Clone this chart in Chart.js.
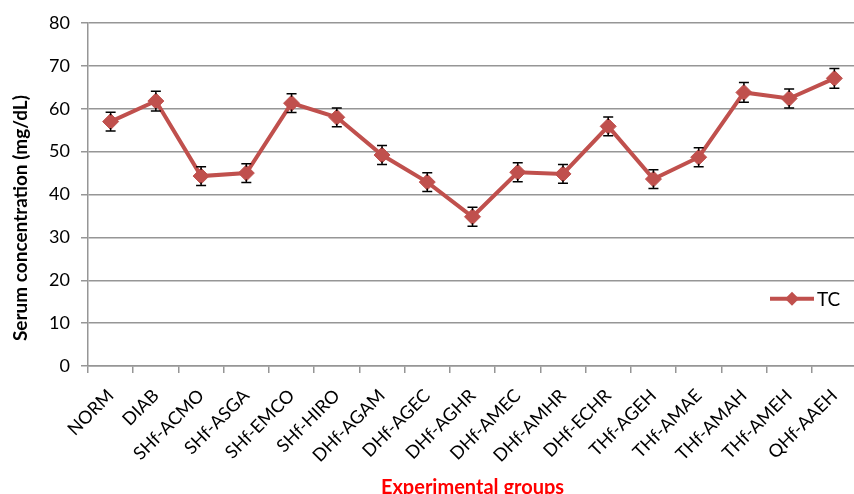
<!DOCTYPE html>
<html>
<head>
<meta charset="utf-8">
<script src="https://cdn.jsdelivr.net/npm/chart.js@4/dist/chart.umd.min.js"></script>
<style>
  html, body { margin: 0; padding: 0; overflow: hidden; background: #fff; }
  #wrap { width: 854px; height: 494px; overflow: hidden; }
</style>
</head>
<body>
<div id="wrap"><canvas id="chart1" width="866" height="505"></canvas></div>
<script>
const groups = ['NORM', 'DIAB', 'SHf-ACMO', 'SHf-ASGA', 'SHf-EMCO', 'SHf-HIRO', 'DHf-AGAM', 'DHf-AGEC',
  'DHf-AGHR', 'DHf-AMEC', 'DHf-AMHR', 'DHf-ECHR', 'THf-AGEH', 'THf-AMAE', 'THf-AMAH', 'THf-AMEH', 'QHf-AAEH'];
const tcMeans = [57.0, 61.8, 44.3, 45.0, 61.3, 58.0, 49.2, 42.9, 34.8, 45.2, 44.8, 55.9, 43.6, 48.7, 63.8, 62.4, 67.1];
const tcErrors = [2.2, 2.3, 2.2, 2.2, 2.2, 2.2, 2.2, 2.2, 2.2, 2.2, 2.2, 2.2, 2.2, 2.2, 2.3, 2.2, 2.3];
const yTicks = [0, 10, 20, 30, 40, 50, 60, 70, 80];
const yTitle = 'Serum concentration (mg/dL)';

const red = '#C0504D';
const gridGrey = 'rgb(150, 150, 150)';
const fontFam = 'Lato, "Liberation Sans", sans-serif';

// error bars with caps
const errorBars = {
  id: 'errorBars',
  afterDatasetsDraw(chart) {
    const ctx = chart.ctx;
    const meta = chart.getDatasetMeta(0);
    const y = chart.scales.y;
    ctx.save();
    ctx.strokeStyle = '#000';
    ctx.lineWidth = 1.5;
    meta.data.forEach((pt, i) => {
      const top = y.getPixelForValue(tcMeans[i] + tcErrors[i]);
      const bot = y.getPixelForValue(tcMeans[i] - tcErrors[i]);
      ctx.beginPath();
      ctx.moveTo(pt.x - 5, top); ctx.lineTo(pt.x + 5, top);
      ctx.moveTo(pt.x - 5, bot); ctx.lineTo(pt.x + 5, bot);
      ctx.moveTo(pt.x, top); ctx.lineTo(pt.x, top + 3);
      ctx.moveTo(pt.x, bot); ctx.lineTo(pt.x, bot - 3);
      ctx.stroke();
    });
    ctx.restore();
  }
};

// legend inside the plot + y title (sits a bit below centre in the original)
const extras = {
  id: 'extras',
  afterDraw(chart) {
    const ctx = chart.ctx;
    const ly = chart.scales.y.getPixelForValue(15.7);
    const lx = 770;
    ctx.save();
    ctx.strokeStyle = red;
    ctx.lineWidth = 4;
    ctx.beginPath();
    ctx.moveTo(lx, ly); ctx.lineTo(lx + 44, ly);
    ctx.stroke();
    ctx.fillStyle = red;
    ctx.beginPath();
    ctx.moveTo(lx + 22, ly - 7); ctx.lineTo(lx + 29, ly); ctx.lineTo(lx + 22, ly + 7); ctx.lineTo(lx + 15, ly);
    ctx.closePath();
    ctx.fill();
    ctx.fillStyle = '#000';
    ctx.font = '19px ' + fontFam;
    ctx.textBaseline = 'middle';
    ctx.fillText('TC', lx + 47, ly + 1);

    ctx.translate(21, chart.scales.y.getPixelForValue(34.5));
    ctx.rotate(-Math.PI / 2);
    ctx.font = 'bold 19px ' + fontFam;
    ctx.textAlign = 'center';
    ctx.fillText(yTitle, 0, 0);
    ctx.restore();
  }
};

const config = {
  type: 'line',
  data: {
    labels: groups,
    datasets: [{
      label: 'TC',
      data: tcMeans,
      borderColor: red,
      backgroundColor: red,
      borderWidth: 4,
      pointStyle: 'rectRot',
      pointRadius: 8,
      pointBackgroundColor: red,
      pointBorderColor: red,
      pointBorderWidth: 1,
      tension: 0
    }]
  },
  options: {
    responsive: false,
    animation: false,
    layout: { padding: { top: 23, left: 0, right: 0, bottom: 0 } },
    plugins: {
      legend: { display: false },
      tooltip: { enabled: false }
    },
    scales: {
      x: {
        offset: true,
        grid: {
          offset: true,
          drawOnChartArea: false,
          drawTicks: true,
          tickLength: 7,
          color: gridGrey,
          lineWidth: 1.5
        },
        border: { display: true, color: gridGrey, width: 1.5 },
        ticks: {
          autoSkip: false,
          minRotation: 45,
          maxRotation: 45,
          padding: 12,
          color: '#000',
          font: { family: fontFam, size: 18 }
        },
        title: {
          display: true,
          text: 'Experimental groups',
          color: '#FF0000',
          font: { family: fontFam, size: 20, weight: 'bold' },
          padding: { top: 0, bottom: 5 }
        },
        afterFit(scale) { scale.height = 139; }
      },
      y: {
        min: 0,
        max: 80,
        afterBuildTicks(scale) { scale.ticks = yTicks.map(v => ({ value: v })); },
        grid: {
          color: gridGrey,
          lineWidth: 1.5,
          drawTicks: true,
          tickLength: 7
        },
        border: { display: true, color: gridGrey, width: 1.5 },
        ticks: {
          padding: 11,
          color: '#000',
          font: { family: fontFam, size: 18 }
        },
        afterFit(scale) { scale.width = 88; }
      }
    }
  },
  plugins: [errorBars, extras]
};

new Chart(document.getElementById('chart1'), config);
</script>
</body>
</html>
